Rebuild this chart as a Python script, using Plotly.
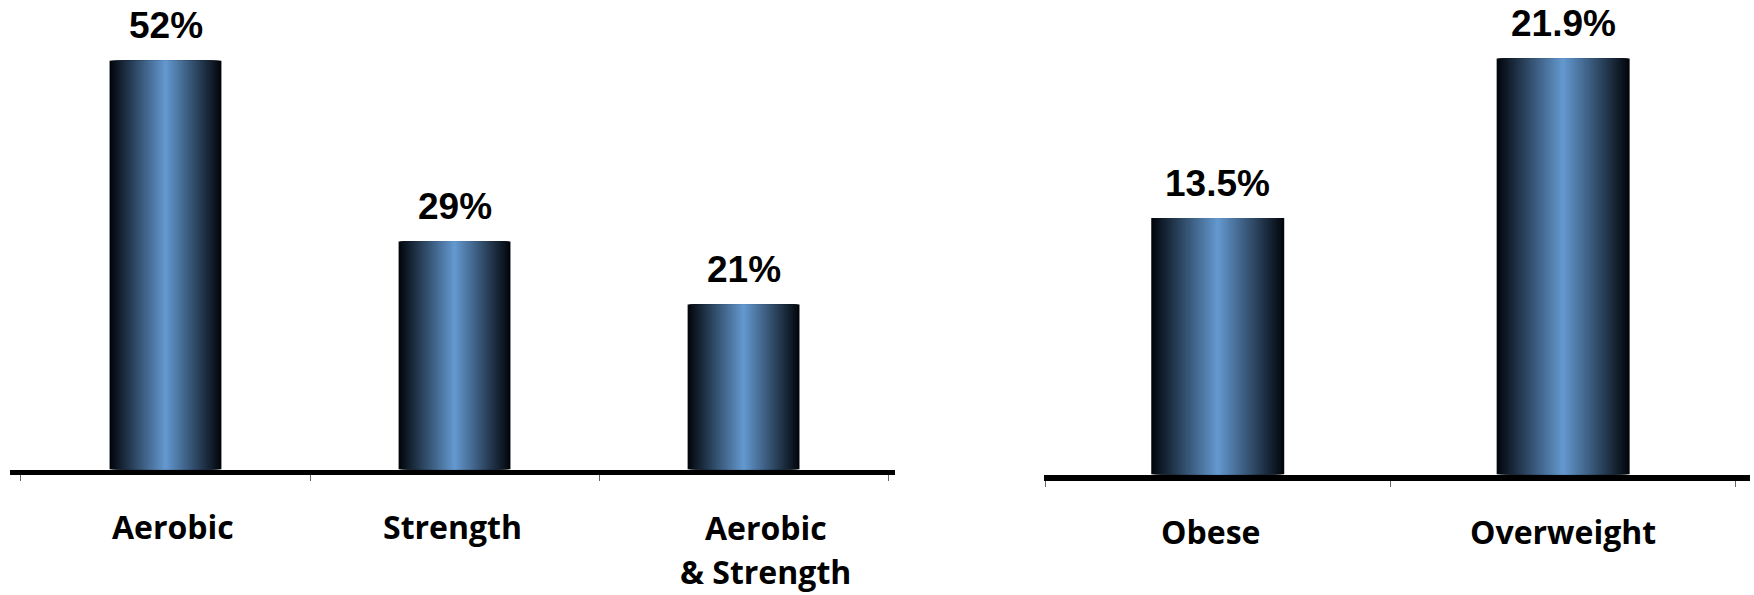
import plotly.graph_objects as go

# Left panel: share of people meeting activity guidelines
activity_labels = ["Aerobic", "Strength", "Aerobic<br>& Strength"]
activity_values = [52, 29, 21]
activity_text = ["52%", "29%", "21%"]

# Right panel: weight status
weight_labels = ["Obese", "Overweight"]
weight_values = [13.5, 21.9]
weight_text = ["13.5%", "21.9%"]

W, H = 1754, 595
EDGE = (2, 6, 12)
CENTER = (99, 151, 205)
N_LAYERS = 44


def lerp_color(t):
    r, g, b = (round(EDGE[k] + (CENTER[k] - EDGE[k]) * t) for k in range(3))
    return f"rgb({r},{g},{b})"


def add_gradient_bars(fig, cats, values, full_width, xaxis, yaxis):
    # Concentric overlaid bars: dark at the sides, light blue in the middle
    for i in range(N_LAYERS):
        t = i / (N_LAYERS - 1)
        w = full_width * (1 - i / N_LAYERS)
        fig.add_trace(go.Bar(
            x=list(range(len(cats))), y=values, width=w,
            marker=dict(color=lerp_color(t), line=dict(width=0)),
            xaxis=xaxis, yaxis=yaxis, showlegend=False,
            hoverinfo="skip" if i else "y",
        ))


fig = go.Figure()
add_gradient_bars(fig, activity_labels, activity_values, 0.387, "x", "y")
add_gradient_bars(fig, weight_labels, weight_values, 0.385, "x2", "y2")

value_font = dict(family="Arial, Liberation Sans, sans-serif", size=37, color="black")
cat_font = dict(family="Open Sans, sans-serif", size=32, color="black")

annotations = []
for i, (v, t) in enumerate(zip(activity_values, activity_text)):
    annotations.append(dict(x=i, y=v, xref="x", yref="y", text=f"<b>{t}</b>",
                            showarrow=False, yanchor="bottom", yshift=13.5,
                            borderpad=0, font=value_font))
for i, (v, t) in enumerate(zip(weight_values, weight_text)):
    annotations.append(dict(x=i, y=v, xref="x2", yref="y2", text=f"<b>{t}</b>",
                            showarrow=False, yanchor="bottom", yshift=13.5,
                            borderpad=0, font=value_font))

# category names under each axis
left_shift = [7, -2, 22]
left_base = [548.5, 548.5, 550.0]
line_gap = 44
for i, lab in enumerate(activity_labels):
    for j, line in enumerate(lab.split("<br>")):
        bottom_px = left_base[i] + line_gap * j
        annotations.append(dict(x=i, y=(H - bottom_px) / H, xref="x", yref="paper",
                                text=f"<b>{line}</b>", showarrow=False,
                                yanchor="bottom", xshift=left_shift[i],
                                borderpad=0, font=cat_font))
right_shift = [-7, 0]
for i, lab in enumerate(weight_labels):
    annotations.append(dict(x=i, y=(H - 553.5) / H, xref="x2", yref="paper",
                            text=f"<b>{lab}</b>", showarrow=False,
                            yanchor="bottom", xshift=right_shift[i],
                            borderpad=0, font=cat_font))

axis_common = dict(
    showline=True, linecolor="black", showgrid=False, zeroline=False,
    ticks="outside", tickmode="array", ticklen=6, tickwidth=1, tickcolor="#666",
    showticklabels=False, fixedrange=True,
)

fig.update_layout(
    width=W, height=H,
    margin=dict(l=0, r=0, t=0, b=0),
    paper_bgcolor="white", plot_bgcolor="white",
    barmode="overlay",
    xaxis=dict(domain=[10 / W, 895 / W], range=[-0.538, 2.524], linewidth=5,
               tickvals=[-0.5, 0.5, 1.5, 2.5], anchor="y", **axis_common),
    yaxis=dict(domain=[(H - 469.5) / H, 1], range=[0, 469.5 / 7.86],
               visible=False, fixedrange=True),
    xaxis2=dict(domain=[1044 / W, 1750 / W], range=[-0.503, 1.541], linewidth=6,
                tickvals=[-0.5, 0.5, 1.5], anchor="y2", **axis_common),
    yaxis2=dict(domain=[(H - 474.5) / H, 1], range=[0, 474.5 / 19.0],
                visible=False, anchor="x2", fixedrange=True),
    annotations=annotations,
)

fig.write_html("out.html")
